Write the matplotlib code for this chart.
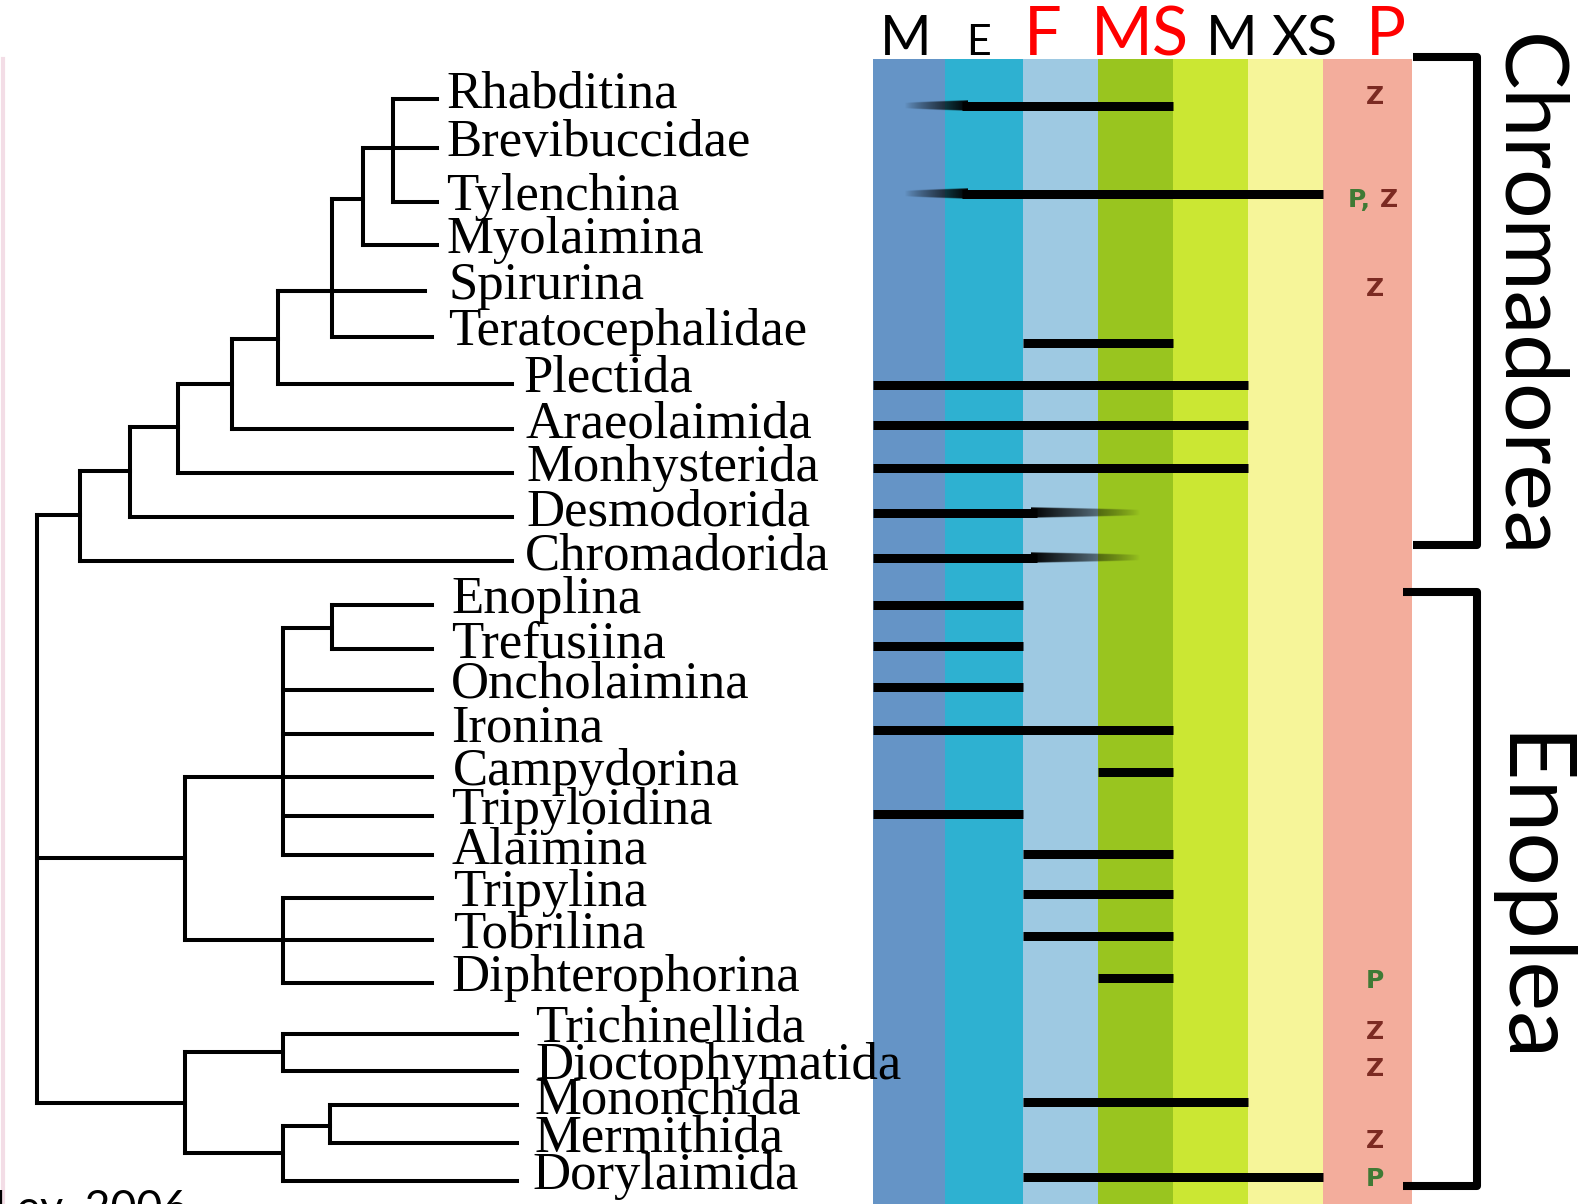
import numpy as np
import matplotlib.pyplot as plt

# --- data ---
leaves = ["Rhabditina", "Brevibuccidae", "Tylenchina", "Myolaimina", "Spirurina",
          "Teratocephalidae", "Plectida", "Araeolaimida", "Monhysterida", "Desmodorida",
          "Chromadorida", "Enoplina", "Trefusiina", "Oncholaimina", "Ironina",
          "Campydorina", "Tripyloidina", "Alaimina", "Tripylina", "Tobrilina",
          "Diphterophorina", "Trichinellida", "Dioctophymatida", "Mononchida",
          "Mermithida", "Dorylaimida"]
leaf_y = [99, 148, 202, 245, 291, 337, 384, 429, 473, 517, 561, 605, 649, 690, 734,
          777, 816, 855, 898, 940, 983, 1034, 1071, 1105, 1143, 1181]
leaf_x0 = [393, 393, 393, 363, 278, 332, 278, 232, 178, 130, 80, 332, 332, 283, 283,
           283, 283, 283, 283, 283, 283, 283, 283, 330, 330, 283]
leaf_x1 = [437, 437, 437, 437, 425, 432, 512, 512, 512, 512, 512, 432, 432, 432, 432,
           432, 432, 432, 432, 432, 432, 517, 517, 517, 517, 517]
label_x = [446, 446, 446, 446, 448, 448, 523, 525, 526, 526, 525, 451, 451, 451, 451,
           453, 451, 451, 453, 453, 451, 535, 535, 535, 535, 532]

# internal nodes: x, top, bottom, y where it hangs, parent x
nodes_x = [393, 363, 332, 278, 232, 178, 130, 80, 37, 332, 283, 283, 185, 283, 330, 283, 185]
nodes_top = [99, 148, 199, 291, 339, 384, 427, 471, 515, 605, 628, 898, 777, 1034, 1105, 1126, 1052]
nodes_bot = [202, 245, 337, 384, 429, 473, 517, 561, 1103, 649, 855, 983, 940, 1071, 1143, 1181, 1153]
nodes_hang = [148, 199, 291, 339, 384, 427, 471, 515, None, 628, 777, 940, 858, 1052, 1126, 1153, 1103]
nodes_parent = [363, 332, 278, 232, 178, 130, 80, 37, None, 283, 185, 185, 37, 185, 283, 185, 37]

habitats = ["M", "E", "F", "MS", "M", "XS", "P"]
habitat_red = [False, False, True, True, False, False, True]
habitat_colors = ["#6594c6", "#2eb1d1", "#9ec9e2", "#99c51f", "#cbe733", "#f6f599", "#f3ad9c"]

# habitat ranges, in band units (0 = left edge of first band)
bars = [("Rhabditina", 0.45, 4), ("Tylenchina", 0.45, 6), ("Teratocephalidae", 2, 4),
        ("Plectida", 0, 5), ("Araeolaimida", 0, 5), ("Monhysterida", 0, 5),
        ("Desmodorida", 0, 3.55), ("Chromadorida", 0, 3.55),
        ("Enoplina", 0, 2), ("Trefusiina", 0, 2), ("Oncholaimina", 0, 2),
        ("Ironina", 0, 4), ("Campydorina", 3, 4), ("Tripyloidina", 0, 2),
        ("Alaimina", 2, 4), ("Tripylina", 2, 4), ("Tobrilina", 2, 4),
        ("Diphterophorina", 3, 4), ("Mononchida", 2, 5), ("Dorylaimida", 2, 6)]
bar_y = {"Rhabditina": 106, "Tylenchina": 194, "Teratocephalidae": 343, "Plectida": 385,
         "Araeolaimida": 425, "Monhysterida": 468, "Desmodorida": 513, "Chromadorida": 558,
         "Enoplina": 605, "Trefusiina": 646, "Oncholaimina": 687, "Ironina": 730,
         "Campydorina": 772, "Tripyloidina": 814, "Alaimina": 854, "Tripylina": 894,
         "Tobrilina": 936, "Diphterophorina": 978, "Mononchida": 1102, "Dorylaimida": 1177}
fade_in_until = {"Rhabditina": 1.3, "Tylenchina": 1.3}
fade_out_from = {"Desmodorida": 2.1, "Chromadorida": 2.1}

p_notes = {"Rhabditina": "Z", "Tylenchina": "P,Z", "Spirurina": "Z", "Diphterophorina": "P",
           "Trichinellida": "Z", "Dioctophymatida": "Z", "Mermithida": "Z", "Dorylaimida": "P"}

# --- layout ---
W, H = 1588, 1204
band_edges = [873, 945, 1023, 1098, 1173, 1248, 1323, 1412]
band_top = 59
header_x = [906, 979, 1043, 1140, 1232, 1305, 1386]
header_size = [40, 31, 48, 48, 40, 40, 48]
sans = ["Lato", "DejaVu Sans"]
bar_h = 9


def bx(u):
    return np.interp(u, range(len(band_edges)), band_edges)


def faded(ax, x0, x1, y, rising):
    # black bar whose opacity (and a little of its thickness) ramps along x
    n, m = 300, 40
    ramp = np.linspace(0, 1, n) if rising else np.linspace(1, 0, n)
    ramp = ramp ** 0.8
    yy = np.linspace(-1.15, 1.15, m)[:, None]
    half = 0.55 + 0.55 * ramp[None, :]
    alpha = np.clip((half - np.abs(yy)) * 6 + 0.5, 0, 1) * ramp[None, :]
    img = np.zeros((m, n, 4))
    img[..., 3] = alpha
    ax.imshow(img, extent=[x0, x1, y + bar_h * 0.575, y - bar_h * 0.575], aspect="auto",
              interpolation="bilinear", zorder=3)


fig = plt.figure(figsize=(W / 100, H / 100), dpi=100)
ax = fig.add_axes([0, 0, 1, 1])

# faint left border
ax.plot([3, 3], [band_top, H], color="#f3dde6", lw=3)

# habitat bands
for i, c in enumerate(habitat_colors):
    ax.fill_between([band_edges[i], band_edges[i + 1]], band_top, H, color=c, lw=0)
for name, x, s, red in zip(habitats, header_x, header_size, habitat_red):
    ax.text(x, 55, name, ha="center", va="baseline", fontsize=s,
            color="red" if red else "black", family=sans)

# tree
tree_kw = dict(color="black", lw=2.9, solid_capstyle="projecting")
for name, y, x0, x1, lx in zip(leaves, leaf_y, leaf_x0, leaf_x1, label_x):
    ax.plot([x0, x1], [y, y], **tree_kw)
    ax.text(lx, y + 8, name, ha="left", va="baseline", fontsize=38,
            family="Liberation Serif")
for x, t, b, hang, px in zip(nodes_x, nodes_top, nodes_bot, nodes_hang, nodes_parent):
    ax.plot([x, x], [t, b], **tree_kw)
    if hang is not None:
        ax.plot([px, x], [hang, hang], **tree_kw)

# habitat ranges
bar_kw = dict(color="black", lw=bar_h * 0.72, solid_capstyle="butt", zorder=3)
for name, u0, u1 in bars:
    y = bar_y[name]
    if name in fade_in_until:
        uf = fade_in_until[name]
        faded(ax, bx(u0), bx(uf), y, True)
        ax.plot([bx(uf) - 6, bx(u1)], [y, y], **bar_kw)
    elif name in fade_out_from:
        uf = fade_out_from[name]
        ax.plot([bx(u0), bx(uf) + 6], [y, y], **bar_kw)
        faded(ax, bx(uf), bx(u1), y, False)
    else:
        ax.plot([bx(u0), bx(u1)], [y, y], **bar_kw)

# parasite notes in the P column
z_col, p_col = "#7b2a22", "#3f7a35"
for name, note in p_notes.items():
    y = leaf_y[leaves.index(name)] - 2
    if note == "P,Z":
        ax.text(1371, y, "P,", ha="right", va="center", fontsize=18, color=p_col,
                family="DejaVu Sans", fontweight="bold")
        ax.text(1380, y, "Z", ha="left", va="center", fontsize=18, color=z_col,
                family="DejaVu Sans", fontweight="bold")
    else:
        ax.text(1375, y, note, ha="center", va="center", fontsize=18,
                color=p_col if note == "P" else z_col, family="DejaVu Sans",
                fontweight="bold")

# class brackets
groups = ["Chromadorea", "Enoplea"]
group_top = [57, 592]
group_bot = [545, 1186]
group_left = [1413, 1403]
group_text_y = [296, 900]
group_size = [63, 68]
for g, t, b, xl, ty, fs in zip(groups, group_top, group_bot, group_left, group_text_y,
                               group_size):
    ax.plot([xl, 1477, 1477, xl], [t, t, b, b], color="black", lw=5.8,
            solid_joinstyle="round", solid_capstyle="butt")
    ax.text(1526, ty, g, rotation=270, ha="center", va="center", fontsize=fs,
            family=sans)

# source note, cut off at the bottom left
ax.text(188, 1222, "De Ley, 2006", ha="right", va="baseline", fontsize=32,
        family=sans)

ax.set_xlim(0, W)
ax.set_ylim(H, 0)
ax.axis("off")
fig.savefig("out.png", dpi=100)
